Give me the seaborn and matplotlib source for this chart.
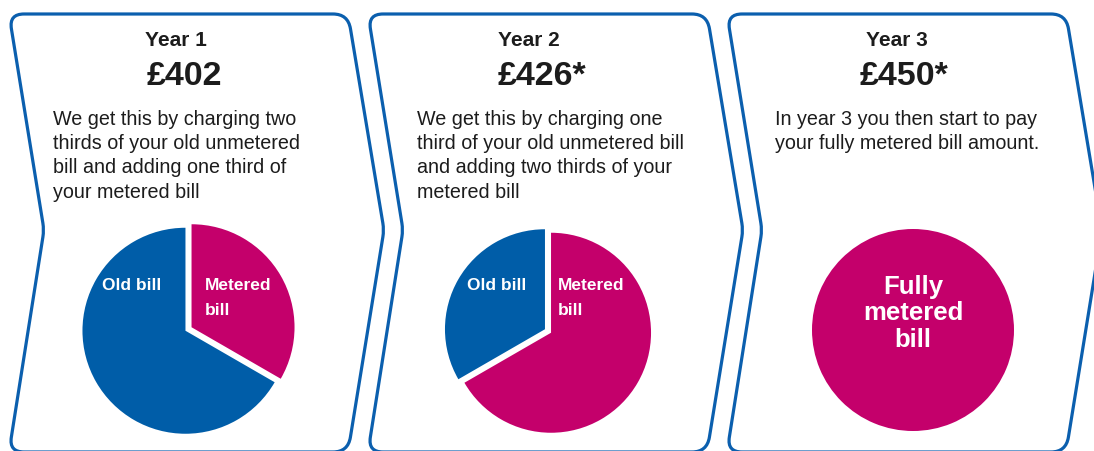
import numpy as np
import seaborn as sns
import matplotlib.pyplot as plt
from matplotlib.path import Path
from matplotlib.patches import PathPatch

W, H = 1094, 451

# chart content
years = ["Year 1", "Year 2", "Year 3"]
bills = ["£402", "£426*", "£450*"]
metered_share = [1 / 3, 2 / 3, 1]
old_share = [2 / 3, 1 / 3, 0]
descriptions = [
    ["We get this by charging two", "thirds of your old unmetered",
     "bill and adding one third of", "your metered bill"],
    ["We get this by charging one", "third of your old unmetered bill",
     "and adding two thirds of your", "metered bill"],
    ["In year 3 you then start to pay", "your fully metered bill amount."],
]
old_label = ["Old bill"]
metered_label = ["Metered", "bill"]
full_label = ["Fully", "metered", "bill"]

BLUE = "#005da8"
MAGENTA = "#c4006b"
OUTLINE = "#0b5fae"
INK = "#1c1c1c"

# layout (pixels from the top-left corner)
panel_x0 = [9, 368, 727]
title_x = [145, 498, 866]
value_x = [147, 498, 860]
text_x = [53, 417, 775]
pie_centers = [(188.5, 329), (548, 331), (913, 330)]
pie_radius = [103, 100, 101]
old_label_xy = [(102, 290), (467, 290)]
metered_label_xy = [(205, 290), (558, 290)]


def rounded_outline(pts, radii):
    verts, codes = [], []
    n = len(pts)
    for i in range(n):
        p_prev = np.array(pts[i - 1], float)
        p = np.array(pts[i], float)
        p_next = np.array(pts[(i + 1) % n], float)
        r = radii[i]
        a = p + (p_prev - p) / np.linalg.norm(p_prev - p) * r
        b = p + (p_next - p) / np.linalg.norm(p_next - p) * r
        verts += [a, p, b]
        codes += [Path.LINETO, Path.CURVE3, Path.CURVE3]
    codes[0] = Path.MOVETO
    verts.append(verts[0])
    codes.append(Path.CLOSEPOLY)
    return Path(verts, codes)


def up(y):
    return H - y


sns.set_theme(style="white")
plt.rcParams['font.family'] = ['Liberation Sans', 'DejaVu Sans']

fig = plt.figure(figsize=(W / 100, H / 100), dpi=100)
ax = fig.add_axes([0, 0, 1, 1])

for i, x0 in enumerate(panel_x0):
    pts = [(x0, 14), (x0 + 339, 14), (x0 + 375, 230),
           (x0 + 339, 452), (x0, 452), (x0 + 35, 230)]
    pts = [(x, up(y)) for x, y in pts]
    ax.add_patch(PathPatch(rounded_outline(pts, [15, 15, 7, 15, 15, 7]),
                           facecolor="white", edgecolor=OUTLINE, lw=2.3, zorder=1))

    ax.text(title_x[i], up(46), years[i], fontsize=15, fontweight="bold",
            color=INK, ha="left", va="baseline", zorder=3)
    ax.text(value_x[i], up(85), bills[i], fontsize=24.5, fontweight="bold",
            color=INK, ha="left", va="baseline", zorder=3)
    for j, line in enumerate(descriptions[i]):
        ax.text(text_x[i], up(125 + 24.2 * j), line, fontsize=14.2,
                color=INK, ha="left", va="baseline", zorder=3)

    # pie of the bill mix
    vals, cols = [], []
    if metered_share[i] > 0:
        vals.append(metered_share[i])
        cols.append(MAGENTA)
    if old_share[i] > 0:
        vals.append(old_share[i])
        cols.append(BLUE)
    cx, cy = pie_centers[i]
    # explode is in data units (pixels here)
    explode = [3.5] * len(vals) if len(vals) > 1 else None
    wedges, _ = ax.pie(vals, colors=cols, startangle=90, counterclock=False,
                       center=(cx, up(cy)), radius=pie_radius[i], explode=explode,
                       wedgeprops=dict(linewidth=0, edgecolor="none"))
    for w in wedges:
        w.set_zorder(2)

    if old_share[i] > 0:
        lx, ly = old_label_xy[i]
        for j, line in enumerate(old_label):
            ax.text(lx, up(ly + 25 * j), line, fontsize=12.5, fontweight="bold",
                    color="white", ha="left", va="baseline", zorder=3)
        lx, ly = metered_label_xy[i]
        for j, line in enumerate(metered_label):
            ax.text(lx, up(ly + 25 * j), line, fontsize=12.5, fontweight="bold",
                    color="white", ha="left", va="baseline", zorder=3)
    else:
        for j, line in enumerate(full_label):
            ax.text(cx, up(294 + 26.5 * j), line, fontsize=18.5, fontweight="bold",
                    color="white", ha="center", va="baseline", zorder=3)

ax.set_xlim(0, W)
ax.set_ylim(0, H)
ax.set_aspect("auto")
ax.axis("off")

fig.savefig("out.png", dpi=100, facecolor="white")
plt.close()
